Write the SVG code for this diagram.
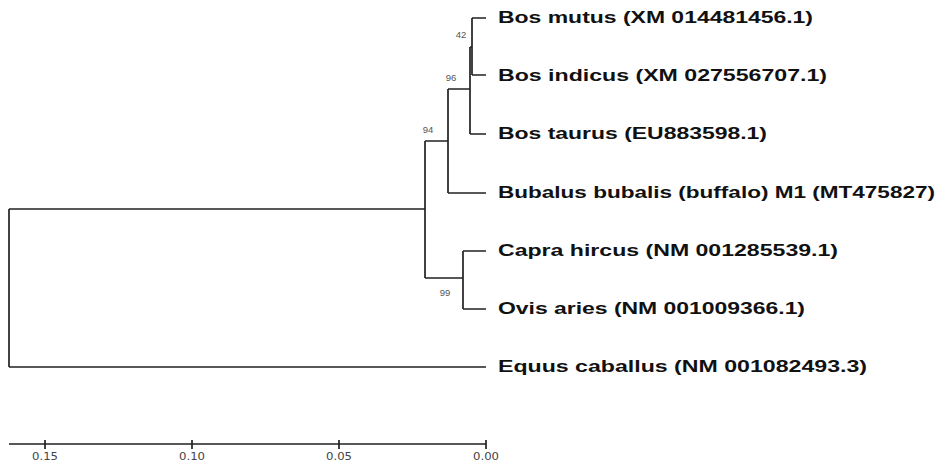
<svg xmlns="http://www.w3.org/2000/svg" width="949" height="464" viewBox="0 0 949 464">
<style>
.br{stroke:#222;stroke-width:1.7;fill:none}
.lf{font-family:"Liberation Sans",Arial,sans-serif;font-weight:bold;font-size:16px;fill:#111}
.bs{font-family:"Liberation Sans",Arial,sans-serif;font-size:9.5px;fill:#555}
.ax{font-family:"DejaVu Sans",sans-serif;font-size:10.5px;fill:#444}
</style>
<rect width="949" height="464" fill="#fff"/>
<g id="connectors">
<path class="br" d="M472,18V75M472,18H486M472,75H486"/>
<path class="br" d="M470,47V134M470,47H472M470,134H486"/>
<path class="br" d="M448,89V193M448,89H470M448,193H486"/>
<path class="br" d="M463,251V309M463,251H486M463,309H486"/>
<path class="br" d="M425,141V278M425,141H448M425,278H463"/>
<path class="br" d="M9,209V367M9,209H425M9,367H486"/>
</g>
<g id="bootstrap">
<text class="bs" x="461" y="38" text-anchor="middle">42</text>
<text class="bs" x="451" y="81" text-anchor="middle">96</text>
<text class="bs" x="428" y="133" text-anchor="middle">94</text>
<text class="bs" x="445" y="296" text-anchor="middle">99</text>
</g>
<g id="n1"><text class="lf" x="498" y="23" textLength="315" lengthAdjust="spacingAndGlyphs">Bos mutus (XM 014481456.1)</text></g>
<g id="n2"><text class="lf" x="498" y="81" textLength="329" lengthAdjust="spacingAndGlyphs">Bos indicus (XM 027556707.1)</text></g>
<g id="n3"><text class="lf" x="498" y="139" textLength="269" lengthAdjust="spacingAndGlyphs">Bos taurus (EU883598.1)</text></g>
<g id="n4"><text class="lf" x="498" y="198" textLength="437" lengthAdjust="spacingAndGlyphs">Bubalus bubalis (buffalo) M1 (MT475827)</text></g>
<g id="n5"><text class="lf" x="498" y="256" textLength="340" lengthAdjust="spacingAndGlyphs">Capra hircus (NM 001285539.1)</text></g>
<g id="n6"><text class="lf" x="498" y="314" textLength="307" lengthAdjust="spacingAndGlyphs">Ovis aries (NM 001009366.1)</text></g>
<g id="n7"><text class="lf" x="498" y="372" textLength="369" lengthAdjust="spacingAndGlyphs">Equus caballus (NM 001082493.3)</text></g>
<g id="scale">
<path class="br" d="M9,444H486M45,440V449M192,440V449M339,440V449M486,440V449"/>
<text class="ax" x="45" y="460" text-anchor="middle" textLength="26" lengthAdjust="spacingAndGlyphs">0.15</text>
<text class="ax" x="192" y="460" text-anchor="middle" textLength="26" lengthAdjust="spacingAndGlyphs">0.10</text>
<text class="ax" x="339" y="460" text-anchor="middle" textLength="26" lengthAdjust="spacingAndGlyphs">0.05</text>
<text class="ax" x="486" y="460" text-anchor="middle" textLength="26" lengthAdjust="spacingAndGlyphs">0.00</text>
</g>
</svg>
